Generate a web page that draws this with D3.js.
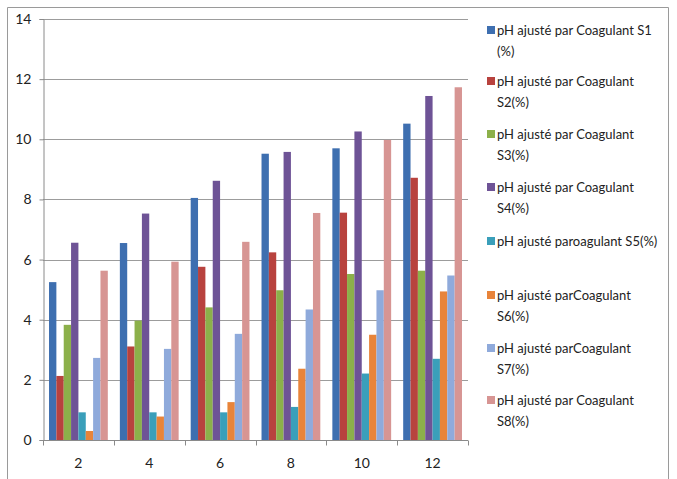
<!DOCTYPE html>
<html>
<head>
<meta charset="utf-8">
<script src="https://cdn.jsdelivr.net/npm/d3@7"></script>
<style>
  html, body { margin: 0; padding: 0; background: #fff; }
  svg { display: block; }
  text { font-family: Lato, "Open Sans", sans-serif; fill: #222; }
</style>
</head>
<body>
<svg id="chart" width="677" height="479"></svg>
<script>
// Categories along the x axis
const categories = ["2", "4", "6", "8", "10", "12"];

// Series names (legend lines) and values per category
const seriesLabels = [
  ["pH ajusté par Coagulant S1", "(%)"],
  ["pH ajusté par Coagulant", "S2(%)"],
  ["pH ajusté par Coagulant", "S3(%)"],
  ["pH ajusté par Coagulant", "S4(%)"],
  ["pH ajusté paroagulant S5(%)"],
  ["pH ajusté parCoagulant", "S6(%)"],
  ["pH ajusté parCoagulant", "S7(%)"],
  ["pH ajusté par Coagulant", "S8(%)"]
];
const s1 = [5.25, 6.55, 8.05, 9.52, 9.70, 10.52];
const s2 = [2.13, 3.11, 5.76, 6.24, 7.56, 8.72];
const s3 = [3.83, 3.97, 4.41, 4.98, 5.52, 5.63];
const s4 = [6.56, 7.53, 8.62, 9.58, 10.26, 11.44];
const s5 = [0.92, 0.92, 0.92, 1.10, 2.21, 2.70];
const s6 = [0.30, 0.78, 1.26, 2.37, 3.50, 4.94];
const s7 = [2.73, 3.03, 3.53, 4.34, 4.98, 5.47];
const s8 = [5.63, 5.93, 6.59, 7.55, 9.98, 11.73];
const seriesValues = [s1, s2, s3, s4, s5, s6, s7, s8];
const colors = ["#3e6fb0", "#b8423e", "#8cb04a", "#6e5396", "#3a9fba", "#e8843a", "#8faadb", "#d79593"];

// Y axis ticks
const yTicks = [0, 2, 4, 6, 8, 10, 12, 14];

const svg = d3.select("#chart");

// Outer frame
svg.append("path")
  .attr("d", "M7.5,479 V7.5 H668.5 V479")
  .attr("fill", "none")
  .attr("stroke", "#9a9a9a")
  .attr("stroke-width", 1);

const plot = { left: 43, right: 468, top: 19, bottom: 440 };

const y = d3.scaleLinear().domain([0, 14]).range([plot.bottom, plot.top]);
const x0 = d3.scaleBand().domain(categories).range([plot.left, plot.right]).padding(0);
const bw = x0.bandwidth();
const x1 = d3.scaleBand().domain(d3.range(seriesValues.length))
  .range([bw * 0.085, bw * 0.915]).padding(0);

// Gridlines
svg.append("g")
  .selectAll("line")
  .data(yTicks.filter(d => d > 0))
  .join("line")
  .attr("x1", plot.left).attr("x2", plot.right)
  .attr("y1", d => Math.round(y(d)) + 0.5).attr("y2", d => Math.round(y(d)) + 0.5)
  .attr("stroke", "#9c9c9c").attr("stroke-width", 1);

// Bars
const groups = svg.append("g")
  .selectAll("g")
  .data(categories)
  .join("g")
  .attr("transform", d => `translate(${x0(d)},0)`);

groups.selectAll("rect")
  .data((c, ci) => seriesValues.map((vals, si) => ({ si, v: vals[ci] })))
  .join("rect")
  .attr("x", d => x1(d.si))
  .attr("width", x1.bandwidth())
  .attr("y", d => y(d.v))
  .attr("height", d => y(0) - y(d.v))
  .attr("fill", d => colors[d.si]);

// Y axis
const yAxis = d3.axisLeft(y).tickValues(yTicks).tickSize(4).tickPadding(8).tickFormat(d3.format("d"));
const gy = svg.append("g").attr("transform", `translate(${plot.left + 0.5},0)`).call(yAxis);
gy.select(".domain").attr("stroke", "#8a8a8a");
gy.selectAll(".tick line").attr("stroke", "#8a8a8a");
gy.selectAll(".tick text").attr("font-size", 14).attr("fill", "#222")
  .style("font-family", "Lato, 'Open Sans', sans-serif");

// X axis with ticks at group boundaries
const gx = svg.append("g").attr("transform", `translate(0,${plot.bottom + 0.5})`);
gx.append("line")
  .attr("x1", plot.left).attr("x2", plot.right)
  .attr("stroke", "#8a8a8a");
gx.selectAll("line.b")
  .data(categories.map(c => x0(c)).concat([plot.right]))
  .join("line")
  .attr("class", "b")
  .attr("x1", d => Math.round(d) + 0.5).attr("x2", d => Math.round(d) + 0.5)
  .attr("y1", 0).attr("y2", 5)
  .attr("stroke", "#8a8a8a");
gx.selectAll("text")
  .data(categories)
  .join("text")
  .attr("x", d => x0(d) + bw / 2)
  .attr("y", 27)
  .attr("text-anchor", "middle")
  .attr("font-size", 14)
  .text(d => d);

// Legend
const legendTops = [30, 81, 134, 187, 241, 295, 348, 400];
const legend = svg.append("g");
seriesLabels.forEach((lines, i) => {
  const ly = legendTops[i];
  legend.append("rect")
    .attr("x", 487).attr("y", ly - 4)
    .attr("width", 8).attr("height", 8)
    .attr("fill", colors[i]);
  lines.forEach((t, k) => {
    legend.append("text")
      .attr("x", 497)
      .attr("y", ly + k * 21.5)
      .attr("dy", "0.35em")
      .attr("font-size", 13)
      .text(t);
  });
});
</script>
</body>
</html>
